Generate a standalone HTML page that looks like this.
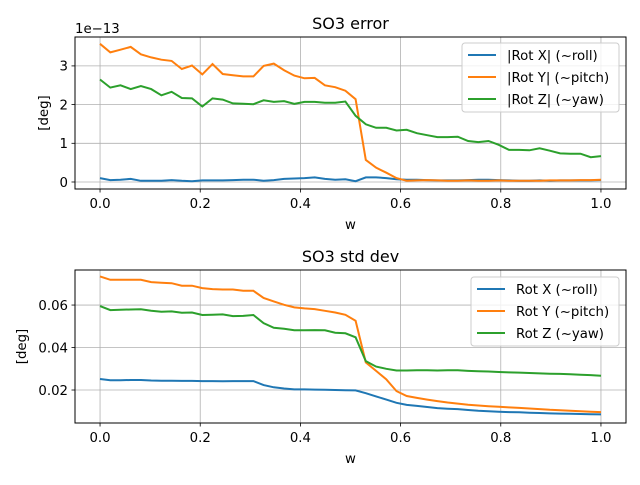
<!DOCTYPE html>
<html><head><meta charset="utf-8"><style>
body{margin:0;background:#fff}
svg{font-family:"DejaVu Sans","Liberation Sans",sans-serif}
</style></head><body>
<svg id="c" width="640" height="480" xmlns="http://www.w3.org/2000/svg"></svg>
<script>
const xs = Array.from({length:50},(_,i)=>i/49);
const errX=[0.10,0.05,0.06,0.08,0.03,0.03,0.03,0.05,0.03,0.02,0.04,0.04,0.04,0.05,0.06,0.06,0.03,0.05,0.08,0.09,0.10,0.12,0.08,0.06,0.07,0.02,0.12,0.12,0.10,0.07,0.06,0.06,0.05,0.04,0.04,0.04,0.05,0.06,0.06,0.05,0.04,0.03,0.03,0.04,0.03,0.04,0.04,0.04,0.04,0.05];
const errY=[3.57,3.35,3.42,3.49,3.30,3.22,3.16,3.13,2.92,3.01,2.78,3.05,2.79,2.76,2.73,2.73,3.00,3.06,2.89,2.75,2.68,2.69,2.50,2.45,2.36,2.14,0.57,0.37,0.24,0.10,0.03,0.04,0.05,0.04,0.03,0.03,0.04,0.03,0.03,0.04,0.03,0.03,0.03,0.03,0.04,0.04,0.04,0.05,0.05,0.06];
const errZ=[2.65,2.44,2.50,2.40,2.48,2.40,2.24,2.33,2.17,2.16,1.95,2.16,2.13,2.03,2.02,2.01,2.11,2.07,2.09,2.02,2.07,2.07,2.05,2.05,2.08,1.71,1.49,1.40,1.40,1.33,1.35,1.26,1.21,1.16,1.16,1.17,1.06,1.03,1.06,0.96,0.83,0.83,0.82,0.87,0.81,0.74,0.73,0.73,0.64,0.67];
const sdX=[0.0252,0.0246,0.0246,0.0247,0.0247,0.0245,0.0244,0.0244,0.0243,0.0243,0.0242,0.0242,0.0241,0.0242,0.0242,0.0242,0.0223,0.0213,0.0207,0.0203,0.0203,0.0202,0.0201,0.0200,0.0199,0.0198,0.0185,0.0170,0.0155,0.0140,0.0130,0.0125,0.0120,0.0115,0.0112,0.0110,0.0106,0.0102,0.0100,0.0098,0.0096,0.0095,0.0093,0.0092,0.0090,0.0089,0.0088,0.0087,0.0086,0.0085];
const sdY=[0.0735,0.0719,0.0719,0.0719,0.0719,0.0708,0.0705,0.0703,0.0691,0.0691,0.0680,0.0675,0.0673,0.0673,0.0667,0.0667,0.0633,0.0617,0.0601,0.0589,0.0584,0.0581,0.0573,0.0565,0.0554,0.0526,0.0330,0.0290,0.0250,0.0195,0.0172,0.0163,0.0155,0.0148,0.0141,0.0136,0.0131,0.0127,0.0124,0.0121,0.0118,0.0116,0.0113,0.0110,0.0107,0.0105,0.0102,0.0100,0.0098,0.0096];
const sdZ=[0.0595,0.0576,0.0578,0.0579,0.0580,0.0573,0.0568,0.0570,0.0564,0.0565,0.0553,0.0554,0.0556,0.0548,0.0549,0.0553,0.0515,0.0493,0.0488,0.0481,0.0481,0.0482,0.0481,0.0470,0.0467,0.0448,0.0336,0.0310,0.0300,0.0292,0.0292,0.0293,0.0293,0.0292,0.0293,0.0293,0.0290,0.0288,0.0287,0.0285,0.0283,0.0282,0.0280,0.0278,0.0277,0.0276,0.0274,0.0272,0.0270,0.0267];
const xTicks=[0,0.2,0.4,0.6,0.8,1.0];
const xTickLabels=["0.0","0.2","0.4","0.6","0.8","1.0"];
const topTicks=[0,1,2,3];
const botTicks=[0.02,0.04,0.06];
const botTickLabels=["0.02","0.04","0.06"];
const C=["#1f77b4","#ff7f0e","#2ca02c"];
const svg=document.getElementById('c');
const NS="http://www.w3.org/2000/svg";
function el(t,a,p){const e=document.createElementNS(NS,t);for(const k in a)e.setAttribute(k,a[k]);(p||svg).appendChild(e);return e;}
function panel(cfg){
  const {L,R,T,B,y0,y1,name}=cfg;
  const g=el('g',{});
  
  
  const sx=v=>L+(v+0.05)/1.1*(R-L);
  const sy=v=>B-(v-y0)/(y1-y0)*(B-T);
  xTicks.forEach((v,i)=>{const x=sx(v);
    const gl=el('line',{x1:x,x2:x,y1:T,y2:B,stroke:'#b0b0b0','stroke-width':0.8},g);
    
    el('line',{x1:x,x2:x,y1:B,y2:B+3.5,stroke:'#000','stroke-width':0.8},g);
    const t=el('text',{x:x,y:B+19,'font-size':13.3,'text-anchor':'middle'},g);t.textContent=xTickLabels[i];
    });
  cfg.yt.forEach((v,i)=>{const y=sy(v);
    const gl=el('line',{x1:L,x2:R,y1:y,y2:y,stroke:'#b0b0b0','stroke-width':0.8},g);
    
    el('line',{x1:L-3.5,x2:L,y1:y,y2:y,stroke:'#000','stroke-width':0.8},g);
    const t=el('text',{x:L-7,y:y+4.8,'font-size':13.3,'text-anchor':'end'},g);t.textContent=cfg.ytl[i];
    });
  cfg.series.forEach((s,k)=>{
    const p=el('polyline',{points:s.map((v,i)=>sx(xs[i]).toFixed(1)+','+sy(v).toFixed(1)).join(' '),fill:'none',stroke:C[k],'stroke-width':2},g);
    });
  el('rect',{x:L,y:T,width:R-L,height:B-T,fill:'none',stroke:'#000','stroke-width':1},g);
  const ti=el('text',{x:(L+R)/2,y:T-8,'font-size':16,'text-anchor':'middle'},g);ti.textContent=cfg.title;
  
  const xl=el('text',{x:(L+R)/2,y:B+40,'font-size':13.3,'text-anchor':'middle'},g);xl.textContent='w';
  
  const yl=el('text',{x:0,y:0,'font-size':13.3,'text-anchor':'middle',transform:`translate(${cfg.ylx},${(T+B)/2}) rotate(-90)`},g);yl.textContent='[deg]';
  
  const lg=el('g',{},g);
  
  const [lx,ly,lw]=cfg.leg;
  el('rect',{x:lx,y:ly,width:lw,height:69,rx:3,fill:'#fff','fill-opacity':0.8,stroke:'#ccc','stroke-width':1},lg);
  cfg.labels.forEach((lb,k)=>{const yy=ly+12+k*22;
    el('line',{x1:lx+6,x2:lx+34,y1:yy,y2:yy,stroke:C[k],'stroke-width':2},lg);
    const t=el('text',{x:lx+45,y:yy+5,'font-size':13.3},lg);t.textContent=lb;
    });
}
panel({name:'so3-error-panel',L:75,R:626,T:37,B:189,y0:-0.181,y1:3.747,yt:topTicks,ytl:["0","1","2","3"],
  series:[errX,errY,errZ],title:'SO3 error',ylx:48,leg:[462,43,157],
  labels:['|Rot X| (~roll)','|Rot Y| (~pitch)','|Rot Z| (~yaw)']});
const ex=el('text',{x:75,y:33,'font-size':13.3});ex.textContent='1e\u221213';

panel({name:'so3-std-panel',L:75,R:626,T:270,B:423,y0:0.00447,y1:0.0765,yt:botTicks,ytl:botTickLabels,
  series:[sdX,sdY,sdZ],title:'SO3 std dev',ylx:26,leg:[471,277,148],
  labels:['Rot X (~roll)','Rot Y (~pitch)','Rot Z (~yaw)']});
</script>
</body></html>
